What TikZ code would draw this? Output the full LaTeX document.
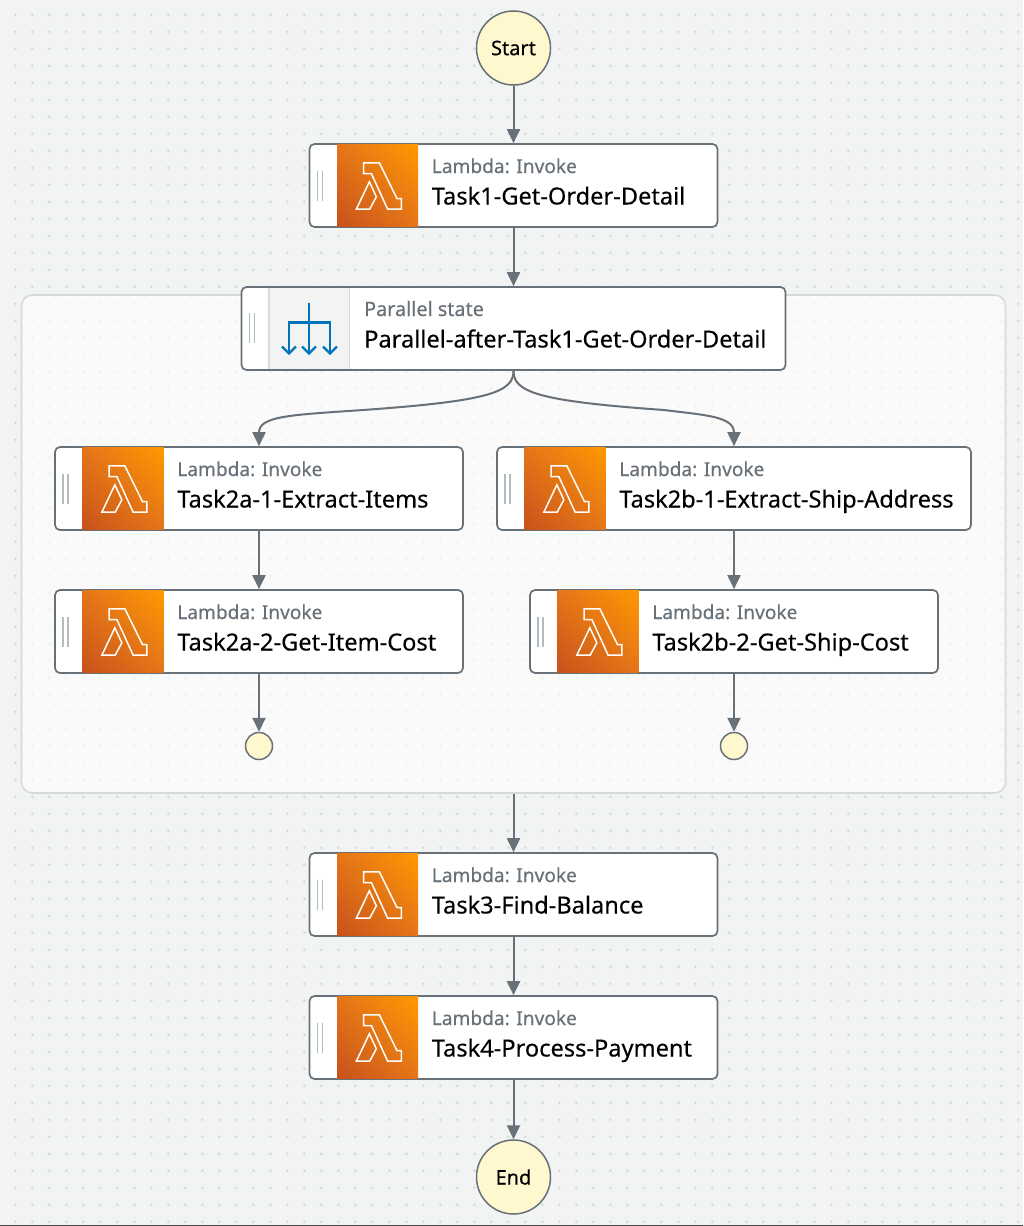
\documentclass[tikz,border=0pt]{standalone}
\usepackage{fontspec}
\setmainfont{Noto Sans}
\newfontfamily\medfont[FakeBold=0.25]{Noto Sans}
\usetikzlibrary{arrows.meta,calc,shadings}
\definecolor{canvasbg}{HTML}{F2F3F3}
\definecolor{griddot}{HTML}{D5DBDB}
\definecolor{edgegray}{HTML}{687078}
\definecolor{groupline}{HTML}{D5DBDB}
\definecolor{startfill}{HTML}{FFF8CF}
\definecolor{iconlow}{HTML}{C8511B}
\definecolor{iconhigh}{HTML}{FF9900}
\definecolor{iconmid}{HTML}{E4751A}
\definecolor{parblue}{HTML}{0073BB}
\tikzset{
	state/.style={draw=edgegray,line width=1.7pt,fill=white,rounded corners=5pt,minimum height=83pt,inner sep=0pt},
	terminal/.style={circle,draw=edgegray,line width=1.5pt,fill=startfill,inner sep=0pt,font=\medfont\fontsize{20}{24}\selectfont},
	endpoint/.style={terminal,minimum size=27pt},
	kind/.style={anchor=base west,inner sep=0pt,text=edgegray,font=\medfont\fontsize{19.1}{24}\selectfont},
	title/.style={anchor=base west,inner sep=0pt,text=black,font=\medfont\fontsize{23.6}{28}\selectfont},
	flow/.style={draw=edgegray,line width=2pt,-{Triangle[length=14pt,width=13pt]}},
	grip/.style={draw=griddot!70!edgegray,line width=1.5pt},
	lambdaicon/.pic={
		\shade[lower left=iconlow,upper right=iconhigh,upper left=iconmid,lower right=iconmid] (-40.5,-41) rectangle (40.5,41);
		\draw[white,line width=1.5pt,line join=miter] (-14,-22.7) -- (1.7,-22.7) -- (19.3,13) -- (23.7,13) -- (23.7,23.7) -- (10,23.7) -- (-6.3,-12) -- (-14,-12) -- cycle;
		\draw[white,line width=1.5pt,line join=miter] (-21.3,23.7) -- (-8.3,-3.7) -- (-1.3,11.3) -- (-8,23.7) -- cycle;
	},
	forkicon/.pic={
		\draw[parblue,line width=2.2pt] (0,-21) -- (0,30);
		\draw[parblue,line width=2.2pt] (-20,30) -- (-20,-1) -- (21,-1) -- (21,30);
		\draw[parblue,line width=2.2pt] (-27,23) -- (-20,30) -- (-13,23);
		\draw[parblue,line width=2.2pt] (-7,23) -- (0,30) -- (7,23);
		\draw[parblue,line width=2.2pt] (14,23) -- (21,30) -- (28,23);
	}
}
\begin{document}
\begin{tikzpicture}[x=1pt,y=-1pt]
	\useasboundingbox (0,0) rectangle (1023,1226);
	\fill[canvasbg] (0,0) rectangle (1023,1226);
	% dotted canvas
	\foreach \i in {0,...,59}
		\foreach \j in {0,...,71}
			\fill[griddot] (15.3+17*\i,14.7+17*\j) circle (1.5);
	\fill[black!70] (0,1225) rectangle (1023,1226);
	% parallel group
	\node[draw=groupline,line width=1.6pt,fill=white,fill opacity=.62,draw opacity=1,rounded corners=11pt,minimum width=984pt,minimum height=498pt,inner sep=0pt] (group) at (513.5,544) {};
	% terminals
	\node[terminal,minimum size=74pt] (start) at (513.5,48) {Start};
	\node[terminal,minimum size=74pt] (end) at (513.5,1177) {End};
	% lambda states
	\foreach \nm/\cx/\cy/\w/\txt in {
		task1/513.5/185.5/408/Task1-Get-Order-Detail,
		taska1/259/488.5/408/Task2a-1-Extract-Items,
		taskb1/734/488.5/474/Task2b-1-Extract-Ship-Address,
		taska2/259/631.5/408/Task2a-2-Get-Item-Cost,
		taskb2/734/631.5/408/Task2b-2-Get-Ship-Cost,
		task3/513.5/894.5/408/Task3-Find-Balance,
		task4/513.5/1037.5/408/Task4-Process-Payment}
	{
		\node[state,minimum width=\w pt] (\nm) at (\cx,\cy) {};
		\pic at ($(\nm.west)+(69,0)$) {lambdaicon};
		\draw[grip] ($(\nm.west)+(9,-15)$) -- ($(\nm.west)+(9,15)$);
		\draw[grip] ($(\nm.west)+(14,-15)$) -- ($(\nm.west)+(14,15)$);
		\node[kind] (\nm kind) at ($(\nm.west)+(123,-12.5)$) {Lambda: Invoke};
		\node[title] (\nm title) at ($(\nm.west)+(123,19)$) {\txt};
	}
	% parallel state
	\node[state,minimum width=544pt] (par) at (513.5,328.5) {};
	\fill[canvasbg] (269,288) rectangle (349.5,369);
	\draw[griddot,line width=1.2pt] (269,288) -- (269,369);
	\draw[griddot,line width=1.2pt] (349.5,288) -- (349.5,369);
	\pic at (309,323.5) {forkicon};
	\draw[grip] (249.5,313) -- (249.5,343);
	\draw[grip] (254.5,313) -- (254.5,343);
	\node[kind,font=\medfont\fontsize{19.8}{24}\selectfont] (parkind) at (364,316) {Parallel state};
	\node[title] (partitle) at (364,347.5) {Parallel-after-Task1-Get-Order-Detail};
	% branch ends
	\node[endpoint] (enda) at (259,746) {};
	\node[endpoint] (endb) at (734,746) {};
	% connectors
	\coordinate (forkl) at (363,410);
	\coordinate (forkr) at (664,410);
	\draw[flow] (start) -- (task1);
	\draw[flow] (task1) -- (par);
	\draw[flow] (par.south) .. controls (513.5,392) and (490,401) .. (forkl) .. controls (290,415) and (259,416) .. (taska1.north);
	\draw[flow] (par.south) .. controls (513.5,392) and (537,401) .. (forkr) .. controls (703,415) and (734,416) .. (taskb1.north);
	\draw[flow] (taska1) -- (taska2);
	\draw[flow] (taskb1) -- (taskb2);
	\draw[flow] (taska2) -- (enda);
	\draw[flow] (taskb2) -- (endb);
	\draw[flow] (group.south) -- (task3);
	\draw[flow] (task3) -- (task4);
	\draw[flow] (task4) -- (end);
\end{tikzpicture}
\end{document}
